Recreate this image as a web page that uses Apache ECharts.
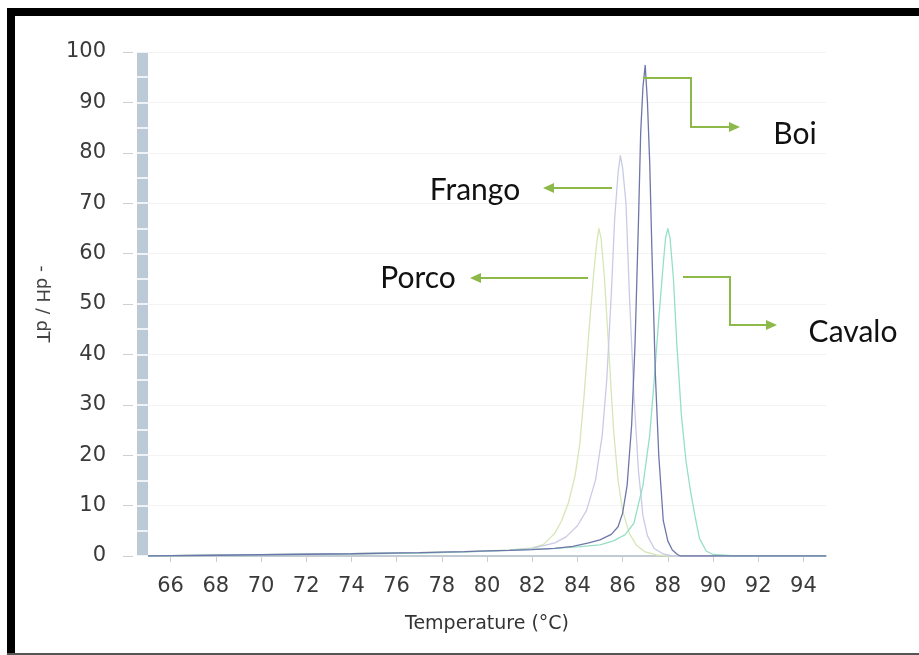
<!DOCTYPE html>
<html>
<head>
<meta charset="utf-8">
<script src="https://cdn.jsdelivr.net/npm/echarts@6/dist/echarts.min.js"></script>
<style>
  html, body { margin: 0; padding: 0; background: #fff; }
  #chart { width: 919px; height: 655px; }
</style>
</head>
<body>
<div id="chart"></div>
<script>
  // melt curves, -dH/dT against temperature
  var porcoT = [65, 68, 71, 74, 77, 79, 80, 81, 82, 82.5, 83, 83.3, 83.6, 83.9, 84.1, 84.3, 84.5, 84.7, 84.85, 84.95, 85.05, 85.2, 85.4, 85.6, 85.8, 86, 86.3, 86.6, 87, 87.5, 88, 89, 95];
  var porcoY = [0, 0.15, 0.3, 0.45, 0.65, 0.85, 1.0, 1.2, 1.6, 2.3, 4.5, 7, 10.5, 16, 22, 32, 44, 55, 62, 65, 63, 55, 40, 25, 15, 9, 4.5, 2.2, 0.8, 0.2, 0, 0, 0];

  var frangoT = [65, 68, 71, 74, 77, 79, 80, 81, 82, 83, 83.5, 84, 84.4, 84.8, 85.1, 85.3, 85.5, 85.65, 85.8, 85.9, 86.0, 86.15, 86.3, 86.5, 86.7, 86.9, 87.1, 87.4, 87.8, 88.2, 89, 95];
  var frangoY = [0, 0.15, 0.3, 0.45, 0.6, 0.8, 0.95, 1.15, 1.5, 2.6, 3.8, 6, 9, 15, 24, 35, 52, 67, 76, 79.5, 77, 70, 52, 32, 17, 8, 4, 1.5, 0.4, 0, 0, 0];

  var boiT = [65, 68, 71, 74, 77, 79, 80, 81, 82, 83, 83.8, 84.5, 85, 85.5, 85.8, 86, 86.2, 86.4, 86.55, 86.7, 86.8, 86.9, 87.0, 87.1, 87.2, 87.3, 87.45, 87.6, 87.8, 88.0, 88.2, 88.4, 88.55, 89, 95];
  var boiY = [0, 0.15, 0.3, 0.45, 0.65, 0.85, 1.0, 1.1, 1.25, 1.5, 1.9, 2.6, 3.2, 4.3, 5.8, 8.5, 14, 26, 42, 66, 84, 93, 97.4, 90, 78, 60, 36, 20, 7, 3, 1.2, 0.4, 0, 0, 0];

  var cavaloT = [65, 68, 71, 74, 77, 79, 80, 81, 82, 83, 84, 85, 85.6, 86.1, 86.5, 86.9, 87.2, 87.4, 87.6, 87.8, 87.9, 88.0, 88.1, 88.25, 88.4, 88.6, 88.8, 89.0, 89.2, 89.4, 89.7, 90, 91, 95];
  var cavaloY = [0, 0.15, 0.3, 0.45, 0.6, 0.8, 0.95, 1.1, 1.3, 1.5, 1.8, 2.2, 3.0, 4.2, 6.5, 14, 24, 35, 47, 58, 63, 65, 63, 55, 42, 28, 19, 13, 8, 3.5, 1, 0.3, 0, 0];

  var xTicks = [66, 68, 70, 72, 74, 76, 78, 80, 82, 84, 86, 88, 90, 92, 94];

  function pairs(xs, ys) {
    return xs.map(function (x, i) { return [x, ys[i]]; });
  }

  function curve(name, xs, ys, color, z) {
    return {
      name: name,
      type: 'line',
      data: pairs(xs, ys),
      showSymbol: false,
      z: z,
      lineStyle: { color: color, width: 1.3 },
      itemStyle: { color: color },
      animation: false
    };
  }

  var arrowColor = '#8db84a';
  function arrow(points, tip, dir) {
    // dir: 1 = points right, -1 = points left
    var tx = tip[0], ty = tip[1];
    return [
      { type: 'polyline', z: 100, shape: { points: points }, style: { stroke: arrowColor, lineWidth: 2, fill: null } },
      { type: 'polygon', z: 100, shape: { points: [[tx, ty], [tx - dir * 11, ty - 5], [tx - dir * 11, ty + 5]] }, style: { fill: arrowColor } }
    ];
  }

  function label(text, x, y) {
    return {
      type: 'text', x: x, y: y, z: 100,
      style: { text: text, font: '30px Lato', fill: '#111', align: 'center', verticalAlign: 'middle' }
    };
  }

  var graphics = [
    // picture frame
    { type: 'rect', z: 100, shape: { x: 7, y: 8, width: 912, height: 8 }, style: { fill: '#000' } },
    { type: 'rect', z: 100, shape: { x: 7, y: 8, width: 8, height: 647 }, style: { fill: '#000' } },
    { type: 'rect', z: 100, shape: { x: 7, y: 653, width: 912, height: 2 }, style: { fill: '#555' } },
    label('Boi', 795, 134),
    label('Frango', 475, 190),
    label('Porco', 418, 278),
    label('Cavalo', 853, 332)
  ]
    .concat(arrow([[643, 78], [691, 78], [691, 127], [730, 127]], [740, 127], 1))
    .concat(arrow([[683, 277], [730, 277], [730, 325], [767, 325]], [777, 325], 1))
    .concat(arrow([[612, 188], [553, 188]], [543, 188], -1))
    .concat(arrow([[588, 278], [480, 278]], [470, 278], -1));

  var myChart = echarts.init(document.getElementById('chart'), null, { renderer: 'canvas' });
  var option = {
    backgroundColor: '#fff',
    animation: false,
    grid: { left: 148, right: 93, top: 52, bottom: 99 },
    xAxis: {
      type: 'value',
      min: 65,
      max: 95,
      name: 'Temperature (°C)',
      nameLocation: 'middle',
      nameGap: 59,
      nameTextStyle: { fontFamily: 'DejaVu Sans', fontSize: 19, color: '#333' },
      axisLine: { show: true, onZero: false, lineStyle: { color: '#c2cad2', width: 2 } },
      axisTick: { show: true, length: 6, customValues: xTicks, lineStyle: { color: '#ccc' } },
      axisLabel: { customValues: xTicks, margin: 20, fontFamily: 'DejaVu Sans', fontSize: 21, color: '#3a3a3a' },
      splitLine: { show: false }
    },
    yAxis: [
      {
        type: 'value',
        min: 0,
        max: 100,
        interval: 10,
        position: 'left',
        offset: 15,
        name: '- dH / dT',
        nameLocation: 'middle',
        nameRotate: -90,
        nameGap: 82,
        nameTextStyle: { fontFamily: 'DejaVu Sans', fontSize: 18, color: '#444' },
        axisLine: { show: false },
        axisTick: { show: true, length: 10, lineStyle: { color: '#d0d0d0' } },
        axisLabel: { margin: 27, fontFamily: 'DejaVu Sans', fontSize: 21, color: '#3a3a3a' },
        splitLine: { show: true, lineStyle: { color: '#f3f3f3' } }
      },
      {
        // the blue-grey strip beside the plot
        type: 'value', min: 0, max: 100, position: 'left', offset: 5.5,
        axisLine: { show: true, lineStyle: { color: '#bccad8', width: 11, cap: 'butt' } },
        axisTick: { show: false }, axisLabel: { show: false }, splitLine: { show: false }
      },
      {
        // white notches across the strip every 5
        type: 'value', min: 0, max: 100, interval: 5, position: 'left', offset: 0,
        axisLine: { show: false },
        axisTick: { show: true, length: 11, lineStyle: { color: '#fff', width: 1.5 } },
        axisLabel: { show: false }, splitLine: { show: false }
      }
    ],
    series: [
      curve('Porco', porcoT, porcoY, '#d6e6b4', 2),
      curve('Frango', frangoT, frangoY, '#c9cbe6', 3),
      curve('Cavalo', cavaloT, cavaloY, '#95e0c4', 4),
      curve('Boi', boiT, boiY, '#6f76aa', 5)
    ],
    graphic: graphics
  };
  myChart.setOption(option);
</script>
</body>
</html>
